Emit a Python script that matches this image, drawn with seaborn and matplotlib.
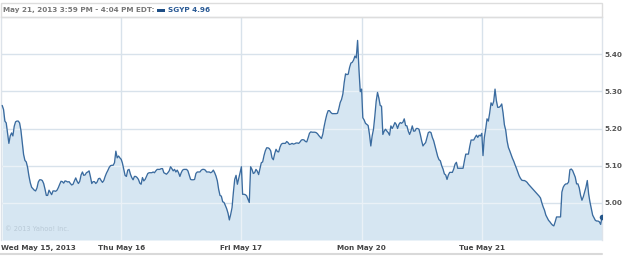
import numpy as np
import pandas as pd
import matplotlib
matplotlib.use("Agg")
import matplotlib.pyplot as plt
from matplotlib.patches import Rectangle
from matplotlib.lines import Line2D
import seaborn as sns

# ---- data (5-day intraday SGYP) ----
day_labels = ["Wed May 15, 2013", "Thu May 16", "Fri May 17", "Mon May 20", "Tue May 21"]
yticks = [5.00, 5.10, 5.20, 5.30, 5.40]
ytick_labels = ["5.00", "5.10", "5.20", "5.30", "5.40"]
header_text = "May 21, 2013 3:59 PM - 4:04 PM EDT:"
legend_text = "SGYP 4.96"
copyright_text = "\u00a9 2013 Yahoo! Inc."

wed = [5.262, 5.251, 5.22, 5.215, 5.188, 5.16, 5.18, 5.188, 5.18, 5.206, 5.218, 5.22, 5.22, 5.215,
       5.195, 5.162, 5.13, 5.114, 5.11, 5.095, 5.072, 5.054, 5.042, 5.038, 5.034, 5.032, 5.04, 5.056,
       5.062, 5.062, 5.06, 5.052, 5.037, 5.02, 5.02, 5.034, 5.028, 5.022, 5.032, 5.032, 5.031, 5.034,
       5.041, 5.05, 5.058, 5.057, 5.053, 5.059, 5.058, 5.056, 5.057, 5.052, 5.048, 5.05, 5.059, 5.067,
       5.058, 5.052, 5.058, 5.075, 5.083, 5.074, 5.075, 5.081, 5.083, 5.086, 5.07, 5.052, 5.057, 5.057,
       5.052, 5.056, 5.065, 5.066, 5.06, 5.055, 5.06, 5.071, 5.08, 5.087, 5.095, 5.1, 5.101, 5.101,
       5.108, 5.139, 5.121, 5.126, 5.121, 5.117]
thu = [5.107, 5.09, 5.074, 5.071, 5.088, 5.09, 5.077, 5.068, 5.062, 5.071, 5.071, 5.068, 5.063, 5.053,
       5.05, 5.068, 5.059, 5.063, 5.071, 5.079, 5.081, 5.081, 5.081, 5.083, 5.081, 5.086, 5.09, 5.09,
       5.09, 5.092, 5.092, 5.081, 5.079, 5.077, 5.081, 5.086, 5.097, 5.092, 5.086, 5.09, 5.083, 5.088,
       5.081, 5.071, 5.081, 5.088, 5.09, 5.09, 5.09, 5.086, 5.074, 5.063, 5.062, 5.062, 5.063, 5.079,
       5.083, 5.083, 5.083, 5.088, 5.09, 5.09, 5.088, 5.083, 5.083, 5.083, 5.081, 5.083, 5.088, 5.081,
       5.072, 5.059, 5.036, 5.02, 5.018, 5.003, 5.001, 4.993, 4.984, 4.972, 4.954, 4.969, 4.987, 5.028,
       5.063, 5.074, 5.05, 5.065, 5.081, 5.097]
fri = [5.023, 5.023, 5.022, 5.019, 5.01, 5.001, 5.097, 5.09, 5.079, 5.081, 5.09, 5.085, 5.076, 5.092,
       5.108, 5.11, 5.127, 5.14, 5.148, 5.148, 5.146, 5.14, 5.121, 5.116, 5.132, 5.144, 5.138, 5.137,
       5.15, 5.158, 5.16, 5.16, 5.16, 5.165, 5.162, 5.157, 5.158, 5.16, 5.158, 5.159, 5.161, 5.161,
       5.16, 5.164, 5.169, 5.17, 5.169, 5.165, 5.164, 5.175, 5.187, 5.191, 5.19, 5.19, 5.19, 5.189,
       5.186, 5.181, 5.177, 5.173, 5.185, 5.206, 5.223, 5.238, 5.248, 5.248, 5.243, 5.24, 5.24, 5.24,
       5.24, 5.241, 5.254, 5.27, 5.278, 5.293, 5.324, 5.347, 5.345, 5.346, 5.364, 5.376, 5.378, 5.384,
       5.395, 5.39, 5.437, 5.36, 5.299, 5.306]
mon = [5.229, 5.223, 5.214, 5.211, 5.208, 5.184, 5.153, 5.18, 5.198, 5.233, 5.273, 5.297, 5.282, 5.262,
       5.26, 5.184, 5.193, 5.198, 5.193, 5.189, 5.182, 5.207, 5.2, 5.207, 5.216, 5.211, 5.2, 5.211,
       5.216, 5.214, 5.217, 5.226, 5.208, 5.207, 5.193, 5.184, 5.193, 5.207, 5.193, 5.193, 5.2, 5.2,
       5.198, 5.184, 5.167, 5.153, 5.158, 5.162, 5.176, 5.189, 5.191, 5.189, 5.176, 5.167, 5.153, 5.14,
       5.125, 5.116, 5.113, 5.1, 5.091, 5.078, 5.075, 5.063, 5.075, 5.082, 5.082, 5.082, 5.091, 5.104,
       5.109, 5.093, 5.093, 5.093, 5.093, 5.093, 5.113, 5.131, 5.131, 5.131, 5.152, 5.169, 5.169, 5.169,
       5.176, 5.182, 5.176, 5.182, 5.18, 5.187]
tue = [5.127, 5.176, 5.198, 5.226, 5.22, 5.242, 5.269, 5.262, 5.273, 5.306, 5.275, 5.257, 5.257, 5.26,
       5.266, 5.242, 5.21, 5.195, 5.167, 5.149, 5.14, 5.13, 5.12, 5.112, 5.102, 5.093, 5.083, 5.073,
       5.066, 5.061, 5.06, 5.06, 5.058, 5.055, 5.05, 5.046, 5.042, 5.038, 5.034, 5.03, 5.026, 5.022,
       5.018, 5.013, 5.0, 4.989, 4.98, 4.967, 4.96, 4.953, 4.949, 4.944, 4.94, 4.938, 4.949, 4.962,
       4.962, 4.962, 4.962, 5.029, 5.042, 5.048, 5.051, 5.051, 5.056, 5.089, 5.091, 5.087, 5.078, 5.069,
       5.051, 5.051, 5.04, 5.02, 5.007, 5.016, 5.029, 5.042, 5.06, 5.024, 5.002, 4.984, 4.967, 4.96,
       4.953, 4.951, 4.951, 4.949, 4.942, 4.962]

days = [wed, thu, fri, mon, tue]

# build a table: time in trading days since Wed open
rows = []
for d, prices in enumerate(days):
    t = d + np.linspace(0.01, 1.0, len(prices))
    rows.append(pd.DataFrame({"t": t, "price": prices}))
df = pd.concat(rows, ignore_index=True)

# ---- styling ----
LINE = "#3a6b9f"
FILL = "#d6e6f2"
GRID = "#d8e2eb"
GRID_ON_FILL = "#eaf1f7"
TXT = "#555555"
FS = 5.2

sns.set_theme(style="white")
plt.rcParams["font.family"] = ["DejaVu Sans"]

fig = plt.figure(figsize=(6.25, 2.56), dpi=100)
W, H = 625, 256
ax = fig.add_axes([1 / W, 1 - 240 / H, 601 / W, 223 / H])

ax.set_xlim(0, 5)
ax.set_ylim(4.90, 5.50)

# grid lines (behind fill)
for yv in yticks:
    ax.axhline(yv, color=GRID, lw=1, zorder=0)
for xv in range(1, 5):
    ax.axvline(xv, color=GRID, lw=1, zorder=0)

fill = ax.fill_between(df["t"], df["price"], 4.90, color=FILL, lw=0, zorder=1)

# lighter grid lines over the filled region
clip_path = fill.get_paths()[0]
for yv in yticks:
    ln = ax.axhline(yv, color=GRID_ON_FILL, lw=1, zorder=1.5)
    ln.set_clip_path(clip_path, transform=ax.transData)
for xv in range(1, 5):
    ln = ax.axvline(xv, color=GRID_ON_FILL, lw=1, zorder=1.5)
    ln.set_clip_path(clip_path, transform=ax.transData)

sns.lineplot(data=df, x="t", y="price", ax=ax, color=LINE, lw=0.95, zorder=3,
             estimator=None, sort=False)
last = df.iloc[-1]
ax.scatter([last["t"]], [last["price"]], s=16, color="#24568a", zorder=4, lw=0)

ax.set_xlabel("")
ax.set_ylabel("")

# spines
for side in ["left", "right", "top"]:
    ax.spines[side].set_visible(True)
    ax.spines[side].set_color("#dde3ea")
    ax.spines[side].set_linewidth(1)
ax.spines["bottom"].set_visible(False)

# ticks
ax.set_xticks(range(0, 5))
ax.set_xticklabels(day_labels)
ax.tick_params(axis="x", length=0, pad=3.5, labelsize=FS, labelcolor="#444444")
for lab in ax.get_xticklabels():
    lab.set_fontweight("bold")
ax.get_xticklabels()[0].set_ha("left")

ax.yaxis.tick_right()
ax.set_yticks(yticks)
ax.set_yticklabels(ytick_labels)
ax.tick_params(axis="y", length=0, pad=2, labelsize=FS, labelcolor=TXT)
for lab in ax.get_yticklabels():
    lab.set_fontweight("bold")

# copyright watermark
ax.text(0.006, 0.035, copyright_text, transform=ax.transAxes, fontsize=4.8,
        color="#b9c9d6", ha="left", va="bottom", zorder=5)

# header box
fig.patches.append(Rectangle((1 / W, 1 - 17 / H), 601 / W, 14 / H, transform=fig.transFigure,
                             fill=False, edgecolor="#dddddd", lw=1))
fig.text(3 / W, 1 - 10 / H, header_text, fontsize=FS, fontweight="bold", color="#777777",
         ha="left", va="center")
fig.patches.append(Rectangle((157 / W, 1 - 11.5 / H), 8 / W, 3 / H, transform=fig.transFigure,
                             facecolor="#1f4f86", edgecolor="none"))
fig.text(168 / W, 1 - 10 / H, legend_text, fontsize=FS, fontweight="bold", color="#2a5a95",
         ha="left", va="center")

# bottom rule
fig.lines.append(Line2D([0, 602 / W], [1 - 254 / H, 1 - 254 / H], transform=fig.transFigure,
                        color="#d9d9d9", lw=1.5))

fig.savefig("out.png", dpi=100)
